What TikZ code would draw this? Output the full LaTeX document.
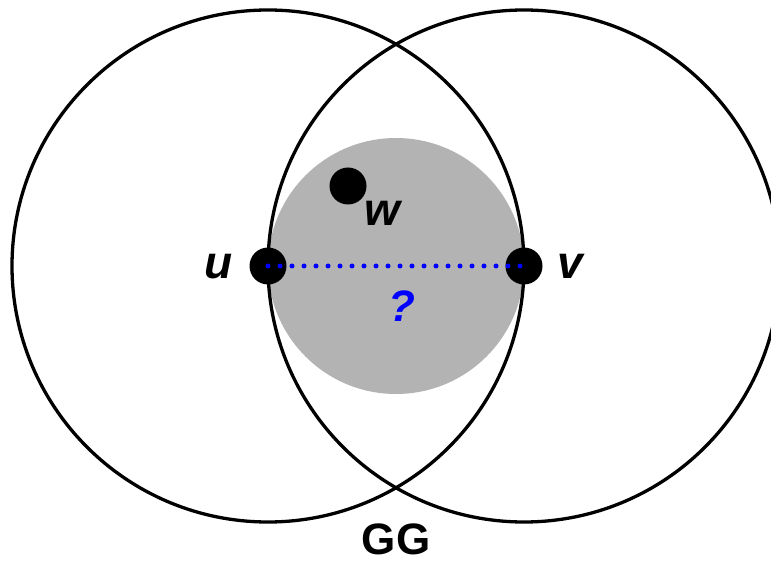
\documentclass[tikz,border=0pt]{standalone}
\usepackage{fontspec}
\setmainfont{Liberation Sans}
\definecolor{diskgray}{RGB}{179,179,179}
\begin{document}
\begin{tikzpicture}[x=1pt,y=-1pt,
  ring/.style={draw=black,line width=3.3pt},
  graydisk/.style={fill=diskgray},
  dotnode/.style={circle,fill=black,inner sep=0pt,minimum size=37pt},
  lab/.style={font=\fontsize{46}{55}\selectfont\bfseries\itshape,anchor=base,inner sep=0pt},
  bluedots/.style={draw=blue,line width=5pt,line cap=round,dash pattern=on 0pt off 12pt}]
\useasboundingbox (0,0) rectangle (771,561);
\coordinate (cu) at (268,266);
\coordinate (cv) at (524,266);
\coordinate (cm) at (396,266);
\fill[graydisk] (cm) circle (128pt);
\draw[ring] (cu) circle (256pt);
\draw[ring] (cv) circle (256pt);
\node[dotnode] (u) at (cu) {};
\node[dotnode] (v) at (cv) {};
\node[dotnode] (w) at (348,186) {};
\draw[bluedots] (u.center) -- (v.center);
\node[lab] (lu) at (219,279) {u};
\node[lab] (lv) at (570,279) {v};
\node[lab] (lw) at (382,226) {w};
\node[lab,text=blue,font=\fontsize{44}{53}\selectfont\bfseries\itshape] (lq) at (402,322) {?};
\node[anchor=base,inner sep=0pt,font=\fontsize{44}{53}\selectfont\bfseries] (gg) at (396,554) {GG};
\end{tikzpicture}
\end{document}
